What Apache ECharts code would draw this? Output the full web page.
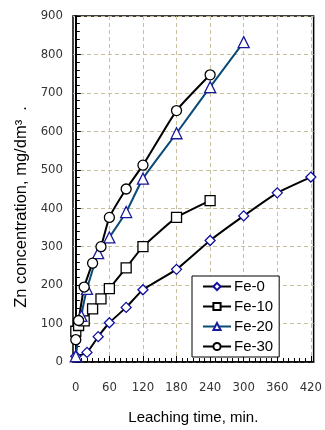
<!DOCTYPE html>
<html><head><meta charset="utf-8">
<script src="https://cdn.jsdelivr.net/npm/echarts@6/dist/echarts.min.js"></script>
<style>html,body{margin:0;padding:0;background:#fff}#c{width:325px;height:430px}</style>
</head><body><div id="c"></div>
<script>
const fe0 = [[0,15],[20,25],[40,66],[60,102],[90,142],[120,188],[180,241],[240,316],[300,380],[360,440],[420,481]];
const fe10 = [[0,80],[5,95],[15,107],[30,138],[45,164],[60,191],[90,245],[120,300],[180,376],[240,420]];
const fe20 = [[0,15],[10,120],[20,190],[40,283],[60,324],[90,390],[120,477],[180,595],[240,715],[300,832]];
const fe30 = [[0,58],[5,108],[15,195],[30,257],[45,300],[60,376],[90,450],[120,512],[180,654],[240,747]];
const xTicks = [0,60,120,180,240,300,360,420];
const xMinorTicks = [0,10,20,30,40,50,60,70,80,90,100,110,120,130,140,150,160,170,180,190,200,210,220,230,240,250,260,270,280,290,300,310,320,330,340,350,360,370,380,390,400,410,420];
const seriesNames = ['Fe-0','Fe-10','Fe-20','Fe-30'];

const font = 'Liberation Sans, Arial, sans-serif';
const narrow = '"Liberation Sans Narrow", "Arial Narrow", "DejaVu Sans Condensed", sans-serif';
const gridLine = {show:true, lineStyle:{color:'#c8bf9c', type:[4,3], width:1}};
const chart = echarts.init(document.getElementById('c'), null, {renderer:'canvas'});
function mk(name, data, symbol, size, lineColor, markColor){
  return {name, type:'line', data, symbol, symbolSize:size, smooth:0.15,
    lineStyle:{color:lineColor, width:2}, itemStyle:{color:'#fff', borderColor:markColor, borderWidth:1.3},
    emphasis:{disabled:true}, animation:false, z:3};
}
chart.setOption({
  animation:false,
  grid:{left:73, right:8, top:16, bottom:62, show:true, borderColor:'#000', borderWidth:1.5, backgroundColor:'#fff'},
  legend:{orient:'vertical', left:192, top:276, width:90, height:76, backgroundColor:'#fff', borderColor:'#000', borderWidth:1,
    padding:[3,6,3,10], itemGap:5, itemWidth:28, itemHeight:9, data:seriesNames,
    textStyle:{fontFamily:font, fontSize:15, color:'#000', padding:[0,0,0,-2]}},
  xAxis:[{type:'value', min:-5, max:425, position:'bottom',
    name:'Leaching time, min.', nameLocation:'middle', nameGap:48,
    nameTextStyle:{fontFamily:font, fontSize:15, color:'#000'},
    axisLine:{show:true, lineStyle:{color:'#000', width:1.5}},
    axisTick:{show:true, inside:true, length:6, customValues:xTicks, lineStyle:{color:'#000'}},
    axisLabel:{customValues:xTicks, fontFamily:narrow, fontSize:13, color:'#333', margin:19},
    splitLine:gridLine},
   {type:'value', min:-5, max:425, position:'bottom',
    axisLine:{show:false}, axisLabel:{show:false}, splitLine:{show:false},
    axisTick:{show:true, inside:true, length:4, customValues:xMinorTicks, lineStyle:{color:'#000'}}}],
  yAxis:{type:'value', min:0, max:900, interval:100,
    name:'Zn concentration, mg/dm³  .', nameLocation:'middle', nameGap:42, nameRotate:90,
    nameTextStyle:{fontFamily:font, fontSize:16.5, color:'#000', padding:[0,36,0,0]},
    axisLine:{show:true, lineStyle:{color:'#000', width:2}},
    axisTick:{show:true, inside:true, length:5, lineStyle:{color:'#000'}},
    minorTick:{show:true, splitNumber:5, length:4, lineStyle:{color:'#000'}},
    axisLabel:{fontFamily:narrow, fontSize:13, color:'#333', margin:10},
    splitLine:gridLine},
  series:[
    mk('Fe-0', fe0, 'diamond', 10, '#000', '#1010a0'),
    mk('Fe-10', fe10, 'rect', 10, '#000', '#000'),
    mk('Fe-20', fe20, 'triangle', 11, '#0b4a78', '#1a1a9c'),
    mk('Fe-30', fe30, 'circle', 10, '#000', '#000')
  ]
});
</script></body></html>
